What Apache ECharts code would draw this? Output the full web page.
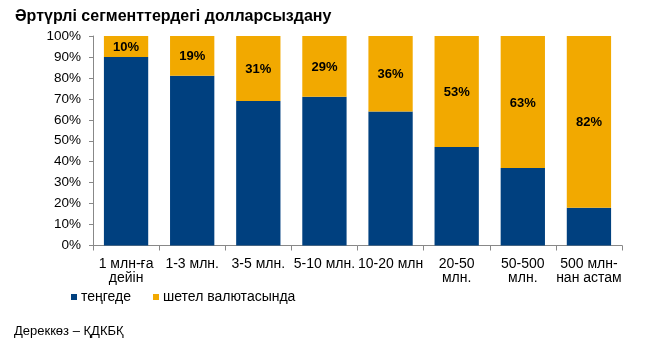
<!DOCTYPE html>
<html><head><meta charset="utf-8">
<script src="https://cdn.jsdelivr.net/npm/echarts@6/dist/echarts.min.js"></script>
<style>html,body{margin:0;padding:0;background:#fff}#c{width:654px;height:342px}</style>
</head><body><div id="c"></div>
<script>
const categories = ['1 млн-ға\nдейін','1-3 млн.','3-5 млн.','5-10 млн.','10-20 млн','20-50\nмлн.','50-500\nмлн.','500 млн-\nнан астам'];
const tengeValues = [90, 81, 69, 71, 64, 47, 37, 18];
const foreignValues = [10, 19, 31, 29, 36, 53, 63, 82];
const seriesNames = ['теңгеде', 'шетел валютасында'];

const font = 'Arial, "Liberation Sans", sans-serif';
const chart = echarts.init(document.getElementById('c'), null, {renderer:'canvas'});
chart.setOption({
  animation:false,
  title:[
    {text:'Әртүрлі сегменттердегі долларсыздану', left:10, top:4, textStyle:{fontFamily:font, fontSize:16, fontWeight:'bold', color:'#000'}},
    {text:'Дереккөз – ҚДКБҚ', left:9, top:320, textStyle:{fontFamily:font, fontSize:13, fontWeight:'normal', color:'#000'}}
  ],
  legend:{
    left:66, top:285, icon:'rect', itemWidth:6, itemHeight:6, itemGap:22,
    textStyle:{fontFamily:font, fontSize:14, color:'#000', padding:[0,0,0,-1]},
    data:seriesNames
  },
  grid:{left:93, right:32, top:36, bottom:96.5},
  xAxis:{
    type:'category', data:categories,
    axisLine:{lineStyle:{color:'#888'}},
    axisTick:{show:true, length:5, lineStyle:{color:'#888'}},
    axisLabel:{fontFamily:font, fontSize:14, color:'#000', margin:12, lineHeight:14, interval:0}
  },
  yAxis:{
    type:'value', min:0, max:100, interval:10,
    axisLine:{show:true, lineStyle:{color:'#888'}},
    axisTick:{show:true, length:4, lineStyle:{color:'#888'}},
    splitLine:{show:false},
    axisLabel:{fontFamily:font, fontSize:13.5, color:'#000', margin:12, formatter:v=>v+'%'}
  },
  series:[
    {name:seriesNames[0], type:'bar', stack:'a', data:tengeValues, barCategoryGap:'33%',
      itemStyle:{color:'#00407F'}},
    {name:seriesNames[1], type:'bar', stack:'a', data:foreignValues, barCategoryGap:'33%',
      itemStyle:{color:'#F2A900'},
      label:{show:true, position:'inside', offset:[0,1], formatter:'{c}%', fontFamily:font, fontSize:13, fontWeight:'bold', color:'#000'}}
  ]
});
</script></body></html>
